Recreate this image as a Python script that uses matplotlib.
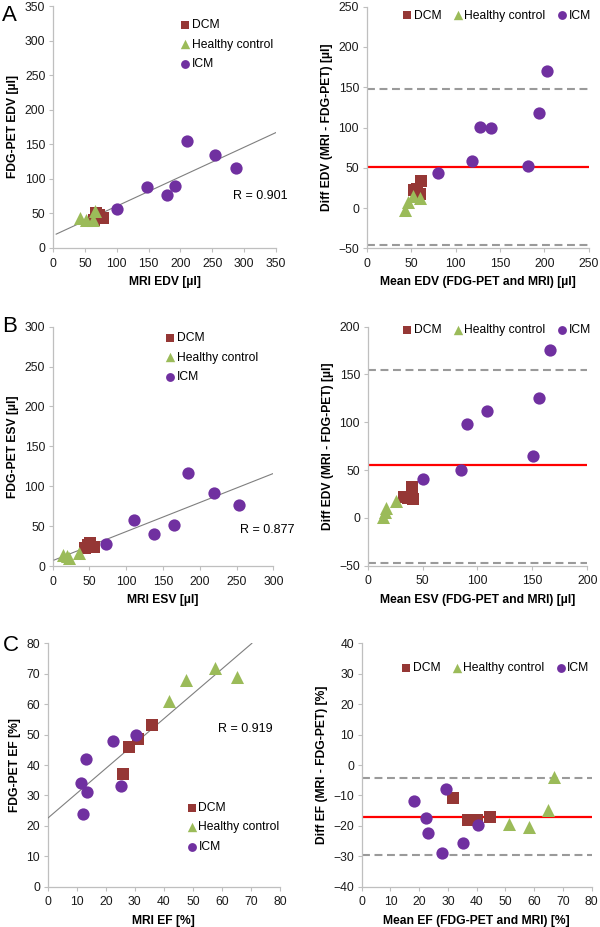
import matplotlib
matplotlib.use("Agg")
import matplotlib.pyplot as plt
import numpy as np

plt.rcParams['font.family'] = ['Liberation Sans', 'DejaVu Sans']

# colours used in the original (Excel default palette)
DCM_COL = '#953735'
HC_COL = '#9bbb59'
ICM_COL = '#7030a0'

# ---------------- Panel A : EDV ----------------
a_dcm_mri = [68, 72, 65, 79]
a_dcm_pet = [50, 47, 41, 44]
a_hc_mri = [43, 52, 63, 66]
a_hc_pet = [43, 41, 41, 53]
a_icm_mri = [101, 147, 179, 191, 210, 254, 287]
a_icm_pet = [57, 88, 77, 89, 155, 134, 116]
a_fit_x = [5, 350]
a_fit_y = [20, 167]

a_dcm_mean = [53, 57, 61, 60]
a_dcm_diff = [22, 24, 33, 18]
a_hc_mean = [43, 47, 52, 60]
a_hc_diff = [-3, 8, 15, 12]
a_icm_mean = [80, 118, 128, 140, 182, 194, 203]
a_icm_diff = [44, 58, 101, 100, 52, 118, 170]
a_bias = 51.5
a_loa = [148, -46]

# ---------------- Panel B : ESV ----------------
b_dcm_mri = [44, 48, 56, 51]
b_dcm_pet = [22, 26, 24, 29]
b_hc_mri = [14.5, 20, 22.5, 36]
b_hc_pet = [14, 12, 10, 16]
b_icm_mri = [72, 110, 138, 165, 184, 219, 254]
b_icm_pet = [28, 58, 40, 51, 117, 92, 77]
b_fit_x = [2, 300]
b_fit_y = [7.5, 116]

b_dcm_mean = [33, 37, 40, 41]
b_dcm_diff = [22, 21, 32, 20]
b_hc_mean = [14, 16, 17, 26]
b_hc_diff = [1, 6, 10, 18]
b_icm_mean = [50.5, 85, 90, 109, 151, 156, 166.5]
b_icm_diff = [41, 50, 98, 112, 65, 125, 176]
b_bias = 55
b_loa = [155, -47]

# ---------------- Panel C : EF ----------------
c_dcm_mri = [25.8, 28, 31.2, 35.9]
c_dcm_pet = [37, 46, 48.5, 53]
c_hc_mri = [41.7, 47.6, 57.6, 65.1]
c_hc_pet = [61, 68, 72, 69]
c_icm_mri = [11.4, 12.3, 13.2, 13.7, 22.4, 25.1, 30.4]
c_icm_pet = [34, 24, 42, 31, 48, 33, 50]
c_fit_x = [0, 70.3]
c_fit_y = [22.5, 80]

c_dcm_mean = [31.7, 37.1, 40, 44.6]
c_dcm_diff = [-11, -18, -18, -17]
c_hc_mean = [51.4, 58.1, 64.7, 66.9]
c_hc_diff = [-19.5, -20.3, -14.7, -3.8]
c_icm_mean = [18.2, 22.4, 23.2, 28, 29.2, 35.1, 40.3]
c_icm_diff = [-11.8, -17.5, -22.5, -28.8, -8, -25.8, -19.7]
c_bias = -17
c_loa = [-4.4, -29.7]

FS = 8.7

fig = plt.figure(figsize=(6, 9.27), dpi=100)
fig.patch.set_facecolor('white')


def style_axes(ax, xlim, ylim, xstep, ystep, xlabel, ylabel):
    ax.set_xlim(*xlim)
    ax.set_ylim(*ylim)
    ax.set_xticks(np.arange(xlim[0], xlim[1] + xstep / 2, xstep))
    ax.set_yticks(np.arange(ylim[0], ylim[1] + ystep / 2, ystep))
    for s in ['top', 'right']:
        ax.spines[s].set_visible(False)
    for s in ['left', 'bottom']:
        ax.spines[s].set_color('#bfbfbf')
        ax.spines[s].set_linewidth(0.9)
    ax.tick_params(length=3, width=0.8, color='#bfbfbf', labelsize=FS,
                   labelcolor='#1a1a1a', pad=2.5)
    ax.tick_params(axis='x', pad=4)
    ax.set_xlabel(xlabel, fontsize=FS, fontweight='bold', labelpad=4.5)
    ax.set_ylabel(ylabel, fontsize=FS, fontweight='bold', labelpad=4)


def add_points(ax, dcm, hc, icm):
    ax.scatter(dcm[0], dcm[1], marker='s', s=68, color=DCM_COL, lw=0, zorder=4, label='DCM')
    ax.scatter(hc[0], hc[1], marker='^', s=88, color=HC_COL, lw=0, zorder=4, label='Healthy control')
    ax.scatter(icm[0], icm[1], marker='o', s=78, color=ICM_COL, lw=0, zorder=4, label='ICM')


def add_legend(ax, anchor, ncol):
    leg = ax.legend(loc='upper left', bbox_to_anchor=anchor, ncol=ncol, frameon=False,
                    fontsize=FS, handlelength=0.7, handletextpad=0.2,
                    labelspacing=0.62, columnspacing=1.0, borderpad=0,
                    borderaxespad=0, markerscale=0.72)
    return leg


def add_limits(ax, bias, loa):
    ax.axhline(bias, color='#ff0000', lw=1.6, zorder=2)
    for v in loa:
        ax.axhline(v, color='#9a9a9a', lw=1.5, linestyle=(0, (3.8, 2.2)), zorder=2)


# ---- A left
ax = fig.add_axes([0.0883, 0.7325, 0.3717, 0.261])
style_axes(ax, (0, 350), (0, 350), 50, 50, 'MRI EDV [µl]', 'FDG-PET EDV [µl]')
ax.plot(a_fit_x, a_fit_y, color='#7f7f7f', lw=0.8, zorder=3)
add_points(ax, (a_dcm_mri, a_dcm_pet), (a_hc_mri, a_hc_pet), (a_icm_mri, a_icm_pet))
add_legend(ax, (0.573, 0.946), 1)
ax.text(283, 75, 'R = 0.901', fontsize=9, va='center', ha='left')

# ---- A right
ax = fig.add_axes([0.6112, 0.7321, 0.37, 0.2607])
style_axes(ax, (0, 250), (-50, 250), 50, 50, 'Mean EDV (FDG-PET and MRI) [µl]',
           'Diff EDV (MRI - FDG-PET) [µl]')
add_limits(ax, a_bias, a_loa)
add_points(ax, (a_dcm_mean, a_dcm_diff), (a_hc_mean, a_hc_diff), (a_icm_mean, a_icm_diff))
add_legend(ax, (0.163, 0.988), 3)

# ---- B left
ax = fig.add_axes([0.0878, 0.3894, 0.3677, 0.2582])
style_axes(ax, (0, 300), (0, 300), 50, 50, 'MRI ESV [µl]', 'FDG-PET ESV [µl]')
ax.plot(b_fit_x, b_fit_y, color='#7f7f7f', lw=0.8, zorder=3)
add_points(ax, (b_dcm_mri, b_dcm_pet), (b_hc_mri, b_hc_pet), (b_icm_mri, b_icm_pet))
add_legend(ax, (0.513, 0.977), 1)
ax.text(254.6, 45, 'R = 0.877', fontsize=9, va='center', ha='left')

# ---- B right
ax = fig.add_axes([0.6128, 0.3898, 0.366, 0.2578])
style_axes(ax, (0, 200), (-50, 200), 50, 50, 'Mean ESV (FDG-PET and MRI) [µl]',
           'Diff EDV (MRI - FDG-PET) [µl]')
add_limits(ax, b_bias, b_loa)
add_points(ax, (b_dcm_mean, b_dcm_diff), (b_hc_mean, b_hc_diff), (b_icm_mean, b_icm_diff))
add_legend(ax, (0.161, 1.011), 3)

# ---- C left
ax = fig.add_axes([0.0795, 0.0435, 0.3872, 0.2625])
style_axes(ax, (0, 80), (0, 80), 10, 10, 'MRI EF [%]', 'FDG-PET EF [%]')
ax.plot(c_fit_x, c_fit_y, color='#7f7f7f', lw=0.8, zorder=3)
add_points(ax, (c_dcm_mri, c_dcm_pet), (c_hc_mri, c_hc_pet), (c_icm_mri, c_icm_pet))
add_legend(ax, (0.602, 0.348), 1)
ax.text(58.8, 52, 'R = 0.919', fontsize=9, va='center', ha='left')

# ---- C right
ax = fig.add_axes([0.6028, 0.0435, 0.3833, 0.2625])
style_axes(ax, (0, 80), (-40, 40), 10, 10, 'Mean EF (FDG-PET and MRI) [%]',
           'Diff EF (MRI - FDG-PET) [%]')
add_limits(ax, c_bias, c_loa)
add_points(ax, (c_dcm_mean, c_dcm_diff), (c_hc_mean, c_hc_diff), (c_icm_mean, c_icm_diff))
add_legend(ax, (0.174, 0.922), 3)

# panel letters
fig.text(0.004, 0.995, 'A', fontsize=16, va='top', ha='left')
fig.text(0.004, 0.659, 'B', fontsize=16, va='top', ha='left')
fig.text(0.004, 0.315, 'C', fontsize=16, va='top', ha='left')

fig.savefig('out.png', dpi=100, facecolor='white')
